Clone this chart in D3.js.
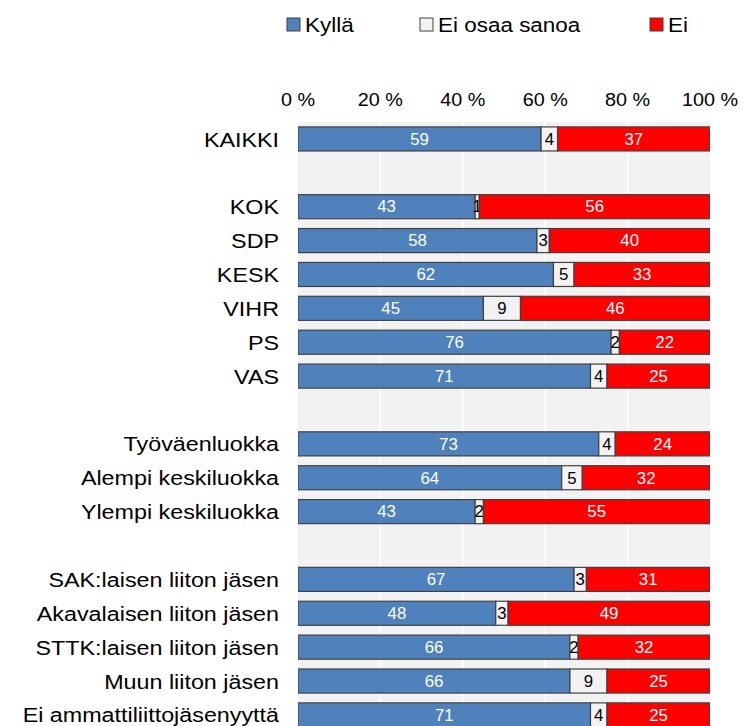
<!DOCTYPE html>
<html><head><meta charset="utf-8">
<script src="https://cdn.jsdelivr.net/npm/d3@7"></script>
<style>body{margin:0;background:#fff;}svg{display:block;font-family:"Liberation Sans",Arial,sans-serif;}</style>
</head><body><svg id="c" width="743" height="726"></svg>
<script>
const categories = ["KAIKKI","","KOK","SDP","KESK","VIHR","PS","VAS","_","Työväenluokka","Alempi keskiluokka","Ylempi keskiluokka","__","SAK:laisen liiton jäsen","Akavalaisen liiton jäsen","STTK:laisen liiton jäsen","Muun liiton jäsen","Ei ammattiliittojäsenyyttä"];
const kylla   = [59,null,43,58,62,45,76,71,null,73,64,43,null,67,48,66,66,71];
const eiOsaa  = [4,null,1,3,5,9,2,4,null,4,5,2,null,3,3,2,9,4];
const ei      = [37,null,56,40,33,46,22,25,null,24,32,55,null,31,49,32,25,25];
const seriesNames = ["Kyllä","Ei osaa sanoa","Ei"];
const colors = ["#4f81bd","#f2f2f2","#ff0000"];
const textColors = ["#fff","#000","#fff"];
const tickValues = [0,20,40,60,80,100];

const svg = d3.select("#c");
const x = d3.scaleLinear().domain([0,100]).range([298,710]);
const step = 33.88;
const y = d3.scaleBand().domain(categories).range([122, 122+step*categories.length]).paddingInner(0.29).paddingOuter(0.145);

svg.append("clipPath").attr("id","pc").append("rect").attr("x",298).attr("y",122).attr("width",412).attr("height",700);
svg.append("rect").attr("x",298).attr("y",122).attr("width",412).attr("height",700).attr("fill","#f2f2f2");
svg.append("g").selectAll("line").data(tickValues.slice(1,-1)).join("line")
  .attr("x1",d=>x(d)).attr("x2",d=>x(d)).attr("y1",122).attr("y2",726)
  .attr("stroke","#fff").attr("stroke-width",1.5);

const rows = categories.map((c,i)=>({c, v:[kylla[i],eiOsaa[i],ei[i]]})).filter(r=>r.v[0]!==null);
const g = svg.append("g").attr("clip-path","url(#pc)");
rows.forEach(r=>{
  let acc = 0;
  r.v.forEach((v,k)=>{
    const x0 = acc, x1 = acc+v; acc = x1;
    g.append("rect").attr("x",x(x0)).attr("y",y(r.c)).attr("width",x(Math.min(x1,100))-x(x0)).attr("height",y.bandwidth())
      .attr("fill",colors[k]).attr("stroke","#404040").attr("stroke-width",1.2);
    const cx = (x(x0)+x(Math.min(x1,100)))/2, cy = y(r.c)+y.bandwidth()/2;
    g.append("text").attr("transform",`translate(${cx},${cy}) scale(1.05,1)`).attr("dy","0.36em")
      .attr("text-anchor","middle").attr("font-size",16).attr("fill",textColors[k]).text(v);
  });
});

// category labels
svg.append("g").selectAll("text").data(rows).join("text")
  .attr("transform",d=>`translate(279,${y(d.c)+y.bandwidth()/2}) scale(1.11,1)`).attr("dy","0.36em").attr("text-anchor","end")
  .attr("font-size",21).attr("fill","#000").text(d=>d.c);

// top axis tick labels
const ax = svg.append("g").attr("transform","translate(0,106)")
  .call(d3.axisTop(x).tickValues(tickValues).tickFormat(d=>d+" %").tickSize(0).tickPadding(0));
ax.select(".domain").remove();
ax.selectAll("text").attr("font-size",18).attr("fill","#000").attr("font-family","Liberation Sans, Arial, sans-serif")
  .attr("transform","scale(1.1,1)").attr("x",function(){return 0;});
ax.selectAll(".tick").each(function(d){
  d3.select(this).attr("transform",null);
  d3.select(this).select("text").attr("transform",`translate(${x(d)},0) scale(1.1,1)`);
});

// legend
const legX = [287,420,650];
const lg = svg.append("g");
seriesNames.forEach((n,k)=>{
  lg.append("rect").attr("x",legX[k]).attr("y",18).attr("width",13).attr("height",13).attr("fill",colors[k]).attr("stroke","#404040").attr("stroke-width",1);
  lg.append("text").attr("transform",`translate(${legX[k]+18},32) scale(1.07,1)`).attr("font-size",21).attr("fill","#000").text(n);
});
</script></body></html>
